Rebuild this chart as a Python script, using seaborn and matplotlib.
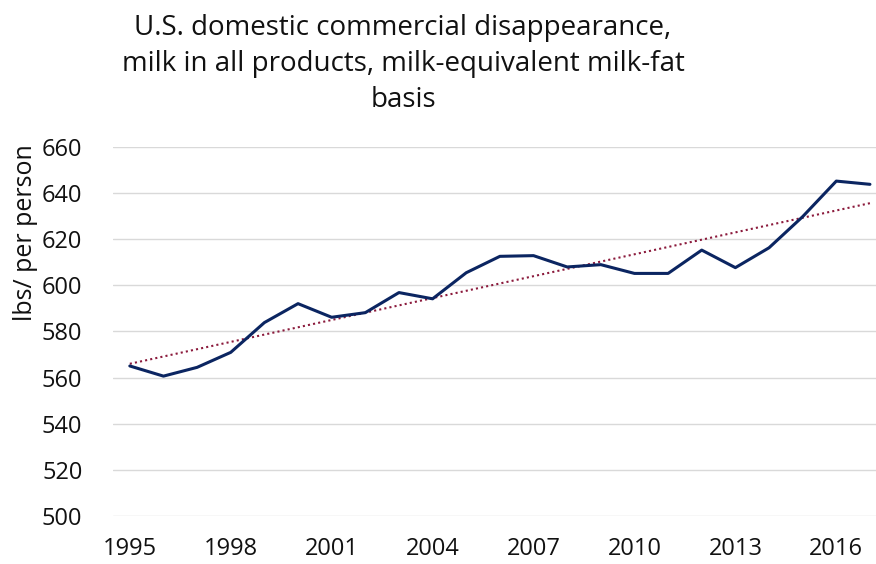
import numpy as np
import pandas as pd
import matplotlib
matplotlib.use("Agg")
import matplotlib.pyplot as plt
import seaborn as sns

# ======= Data =======
years = list(range(1995, 2018))
lbs_per_person = [565.0, 560.6, 564.4, 570.9, 583.8, 592.0, 586.1, 588.1, 596.8, 594.1,
                  605.4, 612.5, 612.8, 607.9, 608.9, 605.1, 605.1, 615.2, 607.6, 616.2,
                  629.7, 645.1, 643.7]
tick_years = [1995, 1998, 2001, 2004, 2007, 2010, 2013, 2016]
y_ticks = list(range(500, 661, 20))

title = ("U.S. domestic commercial disappearance,\n"
         "milk in all products, milk-equivalent milk-fat\n"
         "basis")

df = pd.DataFrame({"year": years, "lbs": lbs_per_person})

# linear trendline like the Excel one
slope, intercept = np.polyfit(df["year"], df["lbs"], 1)
df["trend"] = slope * df["year"] + intercept

# ======= Plot =======
sns.set_theme(style="white")
plt.rcParams["font.family"] = ["Open Sans", "DejaVu Sans"]
plt.rcParams["text.color"] = "#111111"

fig = plt.figure(figsize=(8.76, 5.64), dpi=100)
ax = fig.add_axes([113 / 876, 1 - 516 / 564, 1 - 113 / 876, (516 - 146.7) / 564])

sns.lineplot(data=df, x="year", y="trend", ax=ax, color="#8b1a3c",
             linewidth=1.5, linestyle=(0, (1, 1.5)))
sns.lineplot(data=df, x="year", y="lbs", ax=ax, color="#0b2561", linewidth=2.2)

ax.set_xlim(1994.5, 2017.18)
ax.set_ylim(500, 660)
ax.set_yticks(y_ticks)
ax.set_xticks(tick_years)
ax.grid(axis="y", color="#d9d9d9", linewidth=1)
ax.set_axisbelow(True)
for s in ax.spines.values():
    s.set_visible(False)
ax.tick_params(axis="both", labelsize=17, labelcolor="#111111", length=0)
ax.tick_params(axis="y", pad=22)
ax.tick_params(axis="x", pad=15)
ax.set_xlabel("")
ax.set_ylabel("lbs/ per person", fontsize=18, color="#111111")
ax.yaxis.set_label_coords(-(113 - 38) / 763, (516 - 233) / (516 - 146.7))

fig.text(403 / 876, 1 - 64 / 564, title, ha="center", va="center",
         fontsize=20, linespacing=1.36)

plt.savefig("out.png", dpi=100)
